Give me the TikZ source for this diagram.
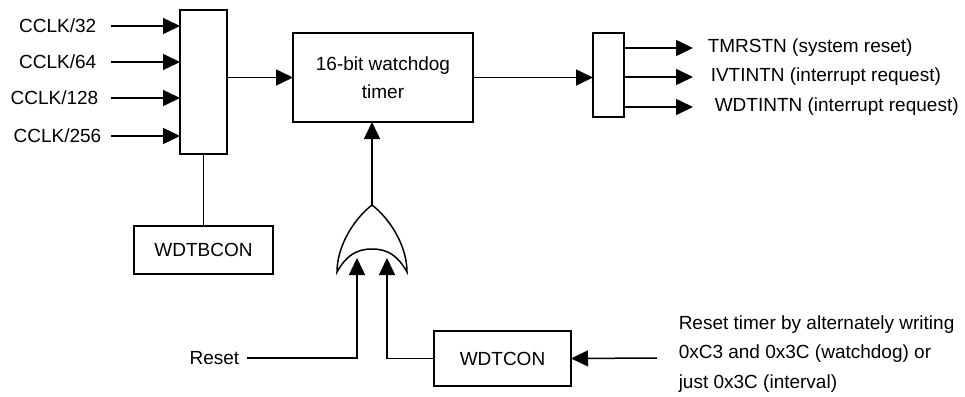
\documentclass[tikz,border=0pt]{standalone}
\usepackage{fontspec}
\setmainfont{Liberation Sans}
\usetikzlibrary{arrows.meta}
\begin{document}
\begin{tikzpicture}[x=1pt,y=-1pt,
  font=\fontsize{19}{20.5}\selectfont,
  line width=1.5pt,
  >={Triangle[length=17pt,width=16pt]},
  box/.style={draw, inner sep=0pt, outer sep=0pt},
  lbl/.style={inner sep=0pt}]
\useasboundingbox (0,0) rectangle (965,396);
% multiplexer
\node[box, minimum width=47pt, minimum height=144pt] (mux) at (203.5,82) {};
\node[lbl, anchor=east] (c32)  at (97,26)  {CCLK/32};
\node[lbl, anchor=east] (c64)  at (97,62)  {CCLK/64};
\node[lbl, anchor=east] (c128) at (99,98)  {CCLK/128};
\node[lbl, anchor=east] (c256) at (102,136) {CCLK/256};
\coordinate (i1) at (111,26);
\coordinate (i2) at (111,62);
\coordinate (i3) at (111,98);
\coordinate (i4) at (111,136);
\foreach \c in {i1,i2,i3,i4} \draw[->] (\c) -- (\c -| mux.west);
% WDTBCON
\node[box, minimum width=139pt, minimum height=48pt] (wdtbcon) at (203.5,250) {WDTBCON};
\draw (mux.south) -- (wdtbcon.north);
% timer
\node[box, minimum width=180pt, minimum height=89pt, align=center,
      font=\fontsize{19}{28}\selectfont] (timer) at (383,77.5) {16-bit watchdog\\timer};
\draw[->] (mux.east |- timer.west) -- (timer.west);
% output demux
\node[box, minimum width=31pt, minimum height=84pt] (mux2) at (608.5,75) {};
\draw[->] (timer.east) -- (mux2.west |- timer.east);
\coordinate (o1) at (693,48);
\coordinate (o2) at (693,77);
\coordinate (o3) at (693,107);
\draw[->] (mux2.east |- o1) -- (o1);
\draw[->] (mux2.east |- o2) -- (o2);
\draw[->] (mux2.east |- o3) -- (o3);
\node[lbl, anchor=west] (t1) at (707,48) {TMRSTN (system reset)};
\node[lbl, anchor=west] (t2) at (710,77) {IVTINTN (interrupt request)};
\node[lbl, anchor=west] (t3) at (714,107) {WDTINTN (interrupt request)};
% OR gate
\coordinate (gtop) at (372,205);
\draw (337,272) .. controls (337,245) and (355,218) .. (gtop)
      .. controls (389,218) and (407,245) .. (407,272)
      .. controls (398,256) and (388,249) .. (372,249)
      .. controls (356,249) and (346,256) .. (337,272) -- cycle;
\draw[->] (gtop) -- (gtop |- timer.south);
\coordinate (g1) at (357,258);
\coordinate (g2) at (387,258);
% Reset
\node[lbl, anchor=east] (reset) at (240,358) {Reset};
\coordinate (rs) at (247,358);
\draw[->] (rs) -| (g1);
% WDTCON
\node[box, minimum width=137pt, minimum height=55pt] (wdtcon) at (502.5,358.5) {WDTCON};
\draw[->] (wdtcon.west) -| (g2);
\node[lbl, anchor=west, align=left, font=\fontsize{19}{29.5}\selectfont] (note) at (678,354)
  {Reset timer by alternately writing\\0xC3 and 0x3C (watchdog) or\\just 0x3C (interval)};
\coordinate (nin) at (657,358);
\draw[->] (nin) -- (wdtcon.east);
\end{tikzpicture}
\end{document}
